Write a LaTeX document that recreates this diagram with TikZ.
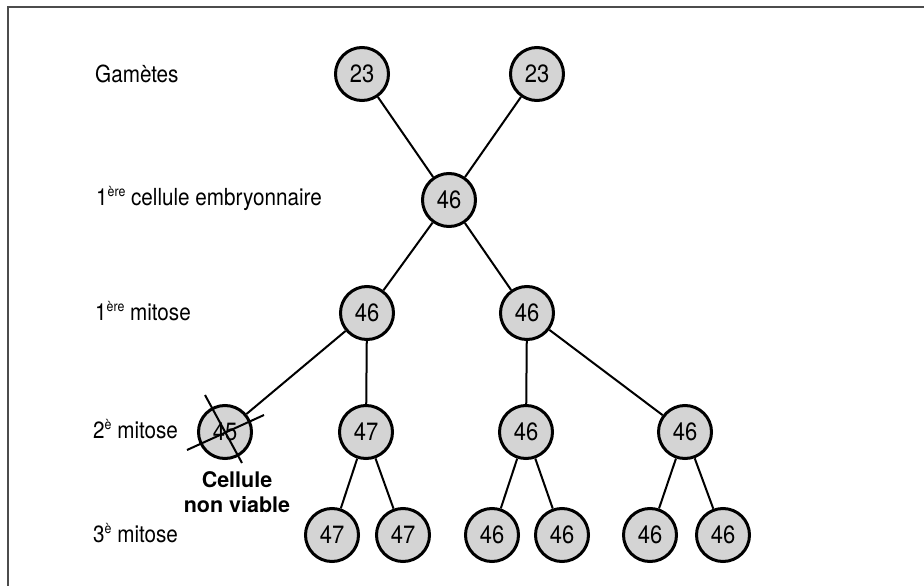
\documentclass[tikz,border=0pt]{standalone}
\usepackage{fontspec}
\setmainfont{TeX Gyre Heros}
\newfontfamily\narrowfont[FakeStretch=0.88]{TeX Gyre Heros}
\newcommand{\expo}[1]{\raisebox{9pt}{\fontsize{14}{14}\selectfont #1}}
\begin{document}
\begin{tikzpicture}[x=1pt,y=-1pt,
  cell/.style={circle,draw,line width=3pt,fill=black!17,minimum size=53pt,inner sep=0pt,font=\narrowfont\fontsize{25}{25}\selectfont},
  lab/.style={anchor=base west,inner sep=0pt,font=\narrowfont\fontsize{23.5}{25}\selectfont},
  boldlab/.style={anchor=base,inner sep=0pt,font=\bfseries\fontsize{21.5}{25}\selectfont},
  link/.style={line width=2pt},
  frame/.style={line width=2pt,draw=black!70}]
\useasboundingbox (0,0) rectangle (924,586);
\draw[frame] (8,586) -- (8,7) -- (924,7);

% labels
\node[lab] (lg) at (95,82) {Gamètes};
\node[lab] (le) at (96,205) {1\expo{ère} cellule embryonnaire};
\node[lab] (l1) at (95,320) {1\expo{ère} mitose};
\node[lab] (l2) at (93,438) {2\expo{è} mitose};
\node[lab] (l3) at (93,542) {3\expo{è} mitose};

\coordinate (pg1) at (362,74);
\coordinate (pg2) at (537,74);
\coordinate (pe) at (449,200);
\coordinate (pm1a) at (367,313);
\coordinate (pm1b) at (527,313);
\coordinate (pm2a) at (225,432);
\coordinate (pm2b) at (366,432);
\coordinate (pm2c) at (526,432);
\coordinate (pm2d) at (685,432);

\node[cell] (g1) at (pg1) {23};
\node[cell] (g2) at (pg2) {23};
\node[cell] (e) at (pe) {46};
\node[cell] (m1a) at (pm1a) {46};
\node[cell] (m1b) at (pm1b) {46};
\node[cell] (m2a) at (pm2a) {45};
\node[cell] (m2b) at (pm2b) {47};
\node[cell] (m2c) at (pm2c) {46};
\node[cell] (m2d) at (pm2d) {46};
\node[cell] (m3a) at (332,535) {47};
\node[cell] (m3b) at (403,535) {47};
\node[cell] (m3c) at (492,535) {46};
\node[cell] (m3d) at (562,535) {46};
\node[cell] (m3e) at (650,535) {46};
\node[cell] (m3f) at (723,535) {46};

\draw[link] (g1) -- (e);
\draw[link] (g2) -- (e);
\draw[link] (e) -- (m1a);
\draw[link] (e) -- (m1b);
\draw[link] (m1a) -- (m2a);
\draw[link] (m1a) -- (m2b);
\draw[link] (m1b) -- (m2c);
\draw[link] (m1b) -- (m2d);
\draw[link] (m2b) -- (m3a);
\draw[link] (m2b) -- (m3b);
\draw[link] (m2c) -- (m3c);
\draw[link] (m2c) -- (m3d);
\draw[link] (m2d) -- (m3e);
\draw[link] (m2d) -- (m3f);

% cross on the non-viable cell
\coordinate (x1) at (205,395);
\coordinate (x2) at (242,463);
\coordinate (x3) at (187,450);
\coordinate (x4) at (264,415);
\draw[link] (x1) -- (x2);
\draw[link] (x3) -- (x4);

\node[boldlab] (cv1) at (237,487) {Cellule};
\node[boldlab] (cv2) at (237,512) {non viable};
\end{tikzpicture}
\end{document}
